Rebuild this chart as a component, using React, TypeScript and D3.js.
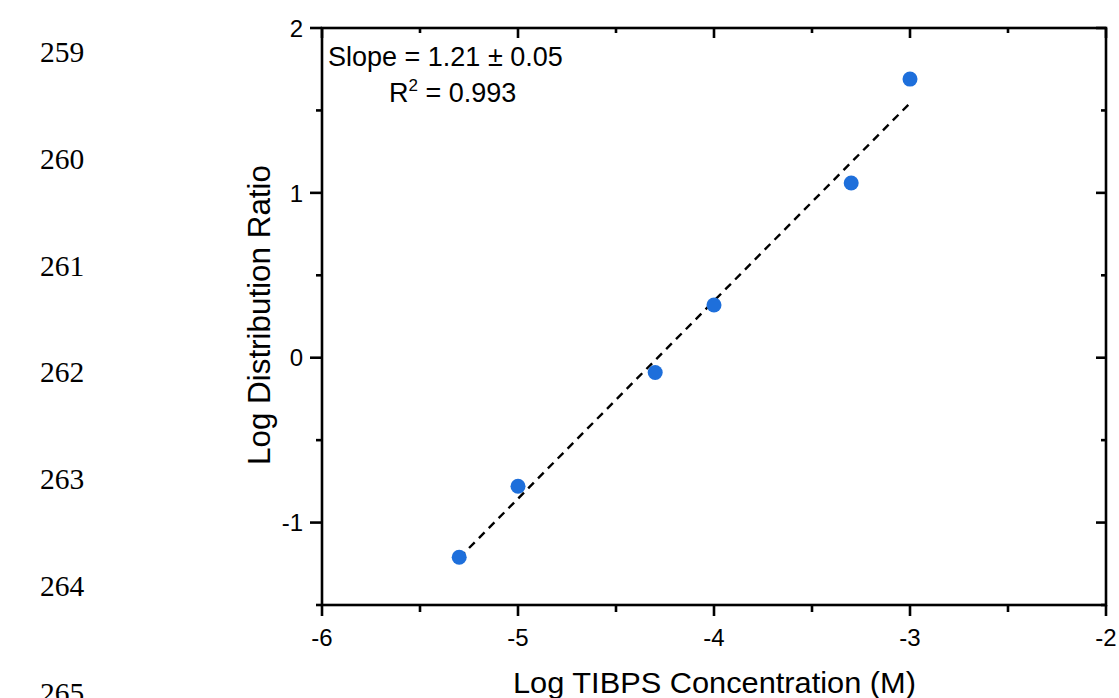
import React from "react";
import * as d3 from "d3";

// ---- data ----
const logConc = [-5.3, -5.0, -4.3, -4.0, -3.3, -3.0];
const logD = [-1.21, -0.78, -0.09, 0.32, 1.06, 1.69];
const xMajorTicks = [-6, -5, -4, -3, -2];
const xMinorTicks = [-5.5, -4.5, -3.5, -2.5];
const yMajorTicks = [-1, 0, 1, 2];
const yMinorTicks = [-1.5, -0.5, 0.5, 1.5];
const lineNumbers = ["259", "260", "261", "262", "263", "264", "265"];
const slopeLabel = "Slope = 1.21 \u00B1 0.05";
const r2Value = "0.993";
const xTitle = "Log TIBPS Concentration (M)";
const yTitle = "Log Distribution Ratio";

const W = 1119;
const H = 698;
const L = 322, R = 1106, T = 28, B = 605;

export default function App() {
  const x = d3.scaleLinear().domain([-6, -2]).range([L, R]);
  const y = d3.scaleLinear().domain([-1.5, 2]).range([B, T]);

  // least squares fit
  const mx = d3.mean(logConc)!;
  const my = d3.mean(logD)!;
  let sxy = 0, sxx = 0;
  logConc.forEach((v, i) => {
    sxy += (v - mx) * (logD[i] - my);
    sxx += (v - mx) * (v - mx);
  });
  const slope = sxy / sxx;
  const icpt = my - slope * mx;
  const xs = [d3.min(logConc)!, d3.max(logConc)!];
  const fitLine = d3
    .line<number>()
    .x((d) => x(d))
    .y((d) => y(slope * d + icpt))(xs);

  const sans = "'Liberation Sans', Arial, sans-serif";
  const serif = "'Liberation Serif', 'Times New Roman', serif";
  const sw = 2.6;
  const fmt = (v: number) => d3.format("d")(v).replace("\u2212", "-");

  return (
    <svg
      width={W}
      height={H}
      style={{ position: "absolute", left: 0, top: 0, background: "#fff" }}
    >
      <rect x={0} y={0} width={W} height={H} fill="#fff" />
      {/* line numbers */}
      {lineNumbers.map((t, i) => (
        <text
          key={t}
          x={40}
          y={62 + i * 106.8}
          fontFamily={serif}
          fontSize={29.5}
          fill="#000"
        >
          {t}
        </text>
      ))}

      {/* frame */}
      <rect x={L} y={T} width={R - L} height={B - T} fill="none" stroke="#000" strokeWidth={sw} />

      {/* bottom ticks (outward) */}
      {xMajorTicks.map((v) => (
        <line key={"bM" + v} x1={x(v)} x2={x(v)} y1={B} y2={B + 11} stroke="#000" strokeWidth={sw} />
      ))}
      {xMinorTicks.map((v) => (
        <line key={"bm" + v} x1={x(v)} x2={x(v)} y1={B} y2={B + 7} stroke="#000" strokeWidth={sw} />
      ))}
      {/* top ticks (inward) */}
      {xMajorTicks.map((v) => (
        <line key={"tM" + v} x1={x(v)} x2={x(v)} y1={T} y2={T + 10} stroke="#000" strokeWidth={sw} />
      ))}
      {xMinorTicks.map((v) => (
        <line key={"tm" + v} x1={x(v)} x2={x(v)} y1={T} y2={T + 5} stroke="#000" strokeWidth={sw} />
      ))}
      {/* left ticks (outward) */}
      {yMajorTicks.map((v) => (
        <line key={"lM" + v} x1={L - 12} x2={L} y1={y(v)} y2={y(v)} stroke="#000" strokeWidth={sw} />
      ))}
      {yMinorTicks.map((v) => (
        <line key={"lm" + v} x1={L - 6} x2={L} y1={y(v)} y2={y(v)} stroke="#000" strokeWidth={sw} />
      ))}
      {/* right ticks (inward) */}
      {yMajorTicks.map((v) => (
        <line key={"rM" + v} x1={R - 10} x2={R} y1={y(v)} y2={y(v)} stroke="#000" strokeWidth={sw} />
      ))}
      {yMinorTicks.map((v) => (
        <line key={"rm" + v} x1={R - 5} x2={R} y1={y(v)} y2={y(v)} stroke="#000" strokeWidth={sw} />
      ))}

      {/* tick labels */}
      {xMajorTicks.map((v) => (
        <text key={"xl" + v} x={x(v)} y={B + 41} textAnchor="middle" fontFamily={sans} fontSize={24} fill="#000">
          {fmt(v)}
        </text>
      ))}
      {yMajorTicks.map((v) => (
        <text key={"yl" + v} x={L - 19} y={y(v) + 8.7} textAnchor="end" fontFamily={sans} fontSize={24} fill="#000">
          {fmt(v)}
        </text>
      ))}

      {/* axis titles */}
      <text
        x={513}
        y={693}
        fontFamily={sans}
        fontSize={30}
        textLength={403}
        lengthAdjust="spacingAndGlyphs"
        fill="#000"
      >
        {xTitle}
      </text>
      <text
        transform={`translate(270, 465) rotate(-90)`}
        fontFamily={sans}
        fontSize={31}
        textLength={300}
        lengthAdjust="spacingAndGlyphs"
        fill="#000"
      >
        {yTitle}
      </text>

      {/* fit line */}
      <path d={fitLine!} fill="none" stroke="#000" strokeWidth={2.4} strokeDasharray="8,6" />

      {/* points */}
      {logConc.map((v, i) => (
        <circle key={"p" + i} cx={x(v)} cy={y(logD[i])} r={7.5} fill="#1E6FDB" />
      ))}

      {/* annotation */}
      <text x={328} y={66} fontFamily={sans} fontSize={27} fill="#000">
        {slopeLabel}
      </text>
      <text x={389} y={102} fontFamily={sans} fontSize={27} fill="#000">
        R
        <tspan fontSize={17} dy={-11}>2</tspan>
        <tspan dy={11}>{" = " + r2Value}</tspan>
      </text>
    </svg>
  );
}
